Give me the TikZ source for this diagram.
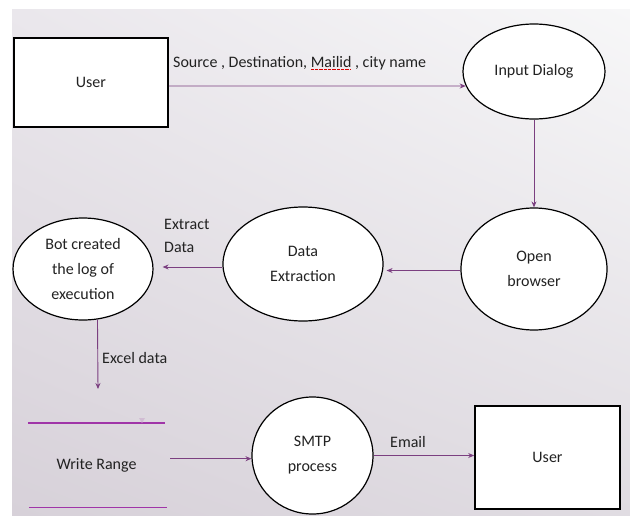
\documentclass[tikz,border=0pt]{standalone}
\usepackage{fontspec}
\setmainfont{Carlito}
\usetikzlibrary{shapes.geometric,arrows.meta,shadings}

\definecolor{flow}{HTML}{7B3F80}
\definecolor{storeline}{HTML}{A035A8}
\definecolor{bgA}{HTML}{EAE7EC}
\definecolor{bgB}{HTML}{F7F7F8}
\definecolor{bgC}{HTML}{D7D1D9}
\definecolor{bgD}{HTML}{E0DCE2}
\definecolor{inkgray}{HTML}{222222}

% dotted red spell-check underline
\newcommand\spellmark[1]{\setbox0\hbox{#1}\rlap{\textcolor{red!85!black}{\hbox to \wd0{\leaders\hbox{\rule[-2.6pt]{0.7pt}{0.6pt}\kern0.6pt}\hfill}}}#1}

\begin{document}
\begin{tikzpicture}[x=1pt,y=-1pt,
  every node/.style={font=\fontsize{16}{25}\selectfont, text=inkgray},
  proc/.style={ellipse, draw=black, line width=1.2pt, fill=white, inner sep=0pt, align=center},
  ext/.style={rectangle, draw=black, line width=1.6pt, fill=white, inner sep=0pt},
  flowarrow/.style={draw=flow, line width=0.9pt, -{Stealth[length=6pt,width=5pt]}},
  storeedge/.style={draw=storeline, line width=1.4pt},
  lbl/.style={inner sep=0pt, align=left}]

\useasboundingbox (0,0) rectangle (630,515);
\shade[upper left=bgA, upper right=bgB, lower left=bgC, lower right=bgD] (12,9) rectangle (630,515);

% external entities
\node[ext, minimum width=154pt, minimum height=89pt] (user1) at (91,82.5) {User};
\node[ext, minimum width=145pt, minimum height=103pt] (user2) at (547.5,457.5) {User};

% processes
\node[proc, minimum width=142pt, minimum height=95pt] (input) at (534,71.5) {Input Dialog};
\node[proc, minimum width=146pt, minimum height=122pt] (browser) at (534,269) {Open\\browser};
\node[proc, minimum width=160pt, minimum height=114pt] (extract) at (303,264) {Data\\Extraction};
\node[proc, minimum width=140pt, minimum height=102pt] (bot) at (83,269) {Bot created\\the log of\\execution};
\node[proc, minimum width=121pt, minimum height=117pt] (smtp) at (312.5,455.5) {SMTP\\process};

% data store
\node[inner sep=0pt, minimum width=137pt, minimum height=84pt] (store) at (96.5,465) {Write Range};
\draw[storeedge] (store.north west) -- (store.north east);
\draw[storeedge] ([xshift=1pt]store.south west) -- ([xshift=2pt]store.south east);
\fill[flow!35] (139,418) -- (145,418) -- (142,423) -- cycle;

% flows
\draw[flowarrow] ([yshift=-3.5pt]user1.east) -- (input.192.5);
\node[lbl, anchor=west] (srclbl) at (173,63) {Source , Destination, \spellmark{Mailid} , city name};

\draw[flowarrow] (input.south) -- (browser.north);

\draw[flowarrow, shorten >=3pt] ([yshift=-1.5pt]browser.west) -- ([yshift=-1.5pt]browser.west -| extract.east);

\draw[flowarrow, shorten >=9pt] ([yshift=-3pt]extract.west) -- ([yshift=-3pt]extract.west -| bot.east);
\node[lbl, anchor=west, font=\fontsize{16}{23}\selectfont] (extlbl) at (164,236) {Extract\\Data};

\coordinate (exceltip) at (98,389);
\draw[flowarrow] (bot.286.7) -- (exceltip);
\node[lbl, anchor=west] (excellbl) at (102,358) {Excel data};

\draw[flowarrow] (store.east |- smtp.183) ++(5,0) -- (smtp.183);

\draw[flowarrow] (smtp.east) -- (smtp.east -| user2.west);
\node[lbl] (emaillbl) at (408,442) {Email};

\end{tikzpicture}
\end{document}
